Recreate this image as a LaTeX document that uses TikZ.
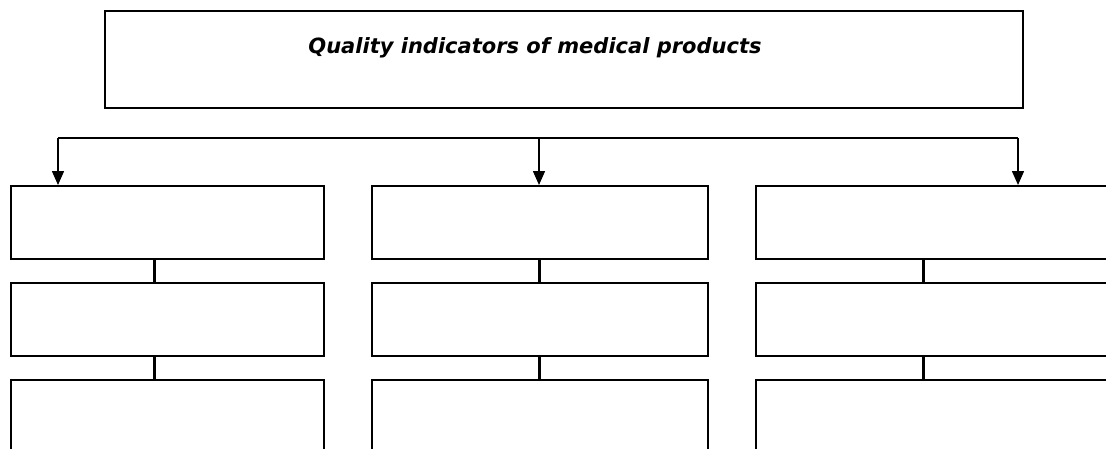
\documentclass[tikz,border=0pt]{standalone}
\usepackage{fontspec}
\setsansfont{DejaVu Sans}
\usetikzlibrary{arrows.meta}
\tikzset{
  cell/.style={draw,line width=2.2pt,rectangle,anchor=north west,inner sep=0pt,minimum height=73pt},
  link/.style={line width=3pt},
}
\begin{document}
\begin{tikzpicture}[x=1pt,y=-1pt,line join=miter,>={Triangle[length=14pt,width=12pt]},
    font=\sffamily\bfseries\itshape\fontsize{21}{25}\selectfont]
			\def \bus{138};
			\clip (0,0) rectangle (1106,448);
			% main box
			\node[draw,line width=2pt,anchor=north west,minimum width=918pt,minimum height=97pt] (main) at (104,10) {};
			\node[inner sep=0pt] (title) at (535,48) {Quality indicators of medical products};
			% three columns of three boxes
			\foreach \c/\xl/\w/\xm/\xa in {1/10/313/154/58, 2/371/336/539/539, 3/755/360/923/1018}{
				\foreach \r/\yt in {1/185,2/282,3/379}{
					\node[cell,minimum width=\w pt] (b\c\r) at (\xl,\yt) {};
				}
				\draw[link] (\xm,0 |- b\c1.south) -- (\xm,0 |- b\c2.north);
				\draw[link] (\xm,0 |- b\c2.south) -- (\xm,0 |- b\c3.north);
				\coordinate (bus\c) at (\xa,\bus);
				\draw[->,line width=1.5pt] (bus\c) -- (bus\c |- b\c1.north);
			}
			\draw[line width=1.5pt] (bus1) -- (bus3);
	\end{tikzpicture}
\end{document}
